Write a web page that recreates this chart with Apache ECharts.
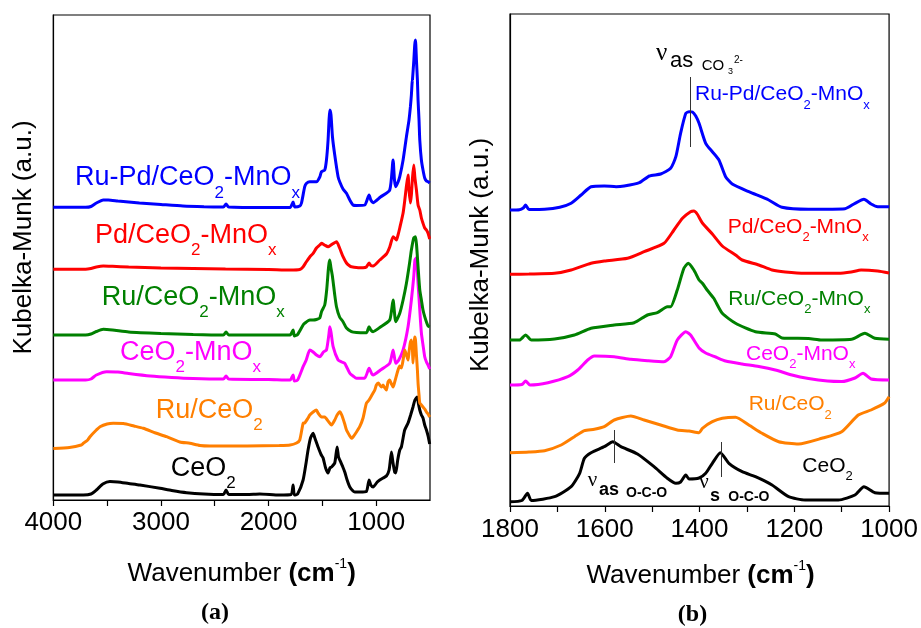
<!DOCTYPE html>
<html><head><meta charset="utf-8">
<script src="https://cdn.jsdelivr.net/npm/echarts@6/dist/echarts.min.js"></script>
<style>html,body{margin:0;padding:0;background:#fff}#c{width:921px;height:628px}</style>
</head><body><div id="c"></div>
<script>
// ---------- Panel (a): wavenumber (cm-1) vs Kubelka-Munk (offset, a.u.) ----------
const aCeO2 = [[4000,5],[3721,5],[3650,6],[3600,10],[3540,16],[3474,18.5],[3400,18],[3300,16.5],[3195,15],[3009,11.7],[2900,9.5],[2761,7.3],[2600,6],[2420,5.5],[2395,10],[2370,5.5],[2200,5.5],[2081,6],[1900,5],[1790,5.5],[1772,15],[1760,5],[1730,6],[1679,20],[1650,38],[1633,50],[1610,62],[1586,66.7],[1570,62],[1540,53],[1510,45],[1493,42],[1470,32],[1447,27],[1430,32],[1415,33],[1385,37],[1363,53],[1350,43],[1338,40],[1310,33],[1292,28],[1270,20],[1245,13],[1215,9],[1199,8],[1150,8],[1091,8.5],[1066,20],[1050,15],[1029,13],[990,18],[967,20],[936,22],[905,24],[880,30],[858,48],[845,38],[828,28],[818,27],[800,40],[781,50],[766,53],[750,62],[735,70],[704,77],[680,85],[658,93],[640,100],[620,103],[605,95],[595,90],[580,85],[565,82],[549,75],[533,70],[518,64],[503,56]];
const aRuCeO2 = [[4000,51.5],[3850,52.5],[3740,55],[3721,56.7],[3680,60],[3659,63.3],[3600,70],[3566,73.3],[3500,76],[3443,76.7],[3350,76.5],[3250,74],[3164,71.7],[3050,67],[2947,63.3],[2824,58],[2731,56.7],[2638,54.5],[2545,54],[2200,54],[1900,54.5],[1800,55],[1740,57],[1710,60],[1679,76.7],[1664,77],[1633,82],[1617,85],[1586,88],[1555,90],[1540,87],[1508,83],[1478,83],[1447,79],[1415,75],[1385,80],[1363,85],[1338,88.3],[1320,85],[1292,76],[1276,70],[1245,64],[1230,61.7],[1215,63],[1183,68],[1153,73.3],[1122,82],[1091,96.7],[1066,100],[1029,107],[1013,110],[998,115],[980,117],[967,115],[950,113],[936,115],[920,112],[905,110],[890,118],[874,120],[858,116],[843,113],[828,118],[797,130],[781,134],[766,132],[750,140],[734,150],[719,145],[704,140],[695,148],[682,158],[673,160],[663,150],[658,137],[651,148],[642,163],[635,160],[626,145],[617,130],[611,117],[602,105],[595,97],[580,95],[565,93],[549,91],[533,88],[518,86],[503,83]];
const aCeMnOx = [[4000,120],[3700,120],[3650,121],[3600,125],[3504,128.3],[3400,128],[3300,126.5],[3100,124],[2900,122.5],[2700,121.5],[2420,121],[2395,124],[2370,121],[2000,120.5],[1800,120],[1772,125],[1760,119],[1730,120],[1679,133.3],[1650,140],[1617,150],[1586,148],[1555,145],[1524,143.3],[1490,148],[1462,150],[1440,165],[1431,173.3],[1420,168],[1400,153.3],[1354,140],[1320,138],[1292,136.7],[1245,126.7],[1215,124],[1183,121.7],[1106,122],[1066,131.7],[1040,126],[1029,125],[960,130],[874,136.7],[843,150],[818,136.7],[790,140],[750,150],[704,173.3],[673,200],[651,223.3],[640,240],[628,242],[611,216.7],[595,190],[580,167],[565,155],[549,143.3],[533,138],[518,135],[503,131]];
const aRuCeMnOx = [[4000,165],[3700,165],[3650,166],[3600,168.5],[3536,170.7],[3450,170],[3300,168],[3000,166.5],[2700,165.5],[2420,165],[2395,168],[2370,165],[1800,165],[1772,170],[1760,164],[1730,165.5],[1679,175],[1664,176.7],[1617,180],[1586,180],[1555,180.5],[1524,182],[1508,188.3],[1478,195],[1460,210],[1445,230],[1438,236.7],[1431,240],[1420,232],[1406,223.3],[1385,205],[1369,193.3],[1340,183],[1308,178.3],[1276,172],[1230,168.3],[1183,167.5],[1091,167.3],[1066,173.3],[1050,170],[1029,168.3],[960,173],[874,180],[843,200],[818,178.3],[781,186.7],[750,200],[719,216.7],[690,236.7],[673,250],[651,262],[635,263.3],[625,255],[611,233.3],[595,210],[580,200],[565,190],[549,183.3],[533,178],[518,174],[503,173]];
const aPdCeMnOx = [[4000,230.7],[3700,230.7],[3650,231.5],[3600,233],[3536,234],[3450,233.7],[3300,233],[3000,232],[2700,231.5],[2400,231],[2000,230.5],[1800,230],[1710,230.5],[1680,233],[1650,238],[1617,243],[1586,246.7],[1555,252],[1524,255],[1508,256.7],[1480,255],[1447,253.3],[1420,255],[1369,258.3],[1340,252],[1308,243.3],[1276,237],[1245,234],[1230,233.3],[1153,232.3],[1122,232.3],[1091,233],[1066,237],[1050,234.5],[1029,234],[967,240],[905,246],[874,253],[843,263.3],[828,262],[812,260],[797,265],[781,272],[750,287],[734,300],[719,314],[704,325],[695,310],[682,297],[673,305],[663,322],[651,335],[640,322],[626,310],[611,295],[595,290],[580,282],[565,276.7],[549,272],[533,270],[518,266.7],[503,261]];
const aRuPdCeMnOx = [[4000,292.7],[3700,292.7],[3650,293.5],[3600,297],[3536,300],[3489,300],[3400,299],[3200,297],[3000,295.5],[2796,294],[2600,293.3],[2420,293],[2395,296],[2370,293],[2000,292.5],[1800,292.5],[1772,298],[1756,293],[1710,294],[1694,297],[1664,313.3],[1647,316.7],[1617,318.3],[1586,318.3],[1555,318.3],[1524,323],[1508,328.3],[1478,330],[1462,340],[1447,360],[1438,380],[1431,390],[1420,385],[1406,363],[1385,345],[1354,323.3],[1338,318],[1308,311],[1276,306.7],[1245,300],[1215,295],[1183,294.5],[1106,295],[1066,305],[1050,300],[1029,297.3],[960,303],[874,310],[843,340],[830,320],[818,313.3],[797,318],[781,323.3],[750,340],[719,363.3],[695,380],[682,393.3],[673,405],[663,420],[657,420],[650,440],[642,455],[635,460],[626,440],[617,420],[611,400],[602,380],[595,360],[580,340],[565,330],[549,322],[533,319],[518,318.3],[503,317]];

// ---------- Panel (b): 1800-1000 cm-1 ----------
const bCeO2 = [[1800,4.3],[1775,5.5],[1763,12.7],[1755,5.5],[1706,9.3],[1671,19.3],[1653,32.7],[1643,47.7],[1629,53.3],[1601,59.3],[1583,64.3],[1566,59.3],[1531,52],[1496,39.3],[1468,27.7],[1450,22.7],[1440,24],[1429,31],[1422,27],[1401,28],[1387,32.7],[1373,42.7],[1356,53.3],[1338,42.7],[1310,34.3],[1282,29.3],[1247,21],[1212,9.3],[1177,6],[1107,6],[1072,11],[1053,19.3],[1030,13.3],[1000,12.7]];
const bRuCeO2 = [[1800,53.3],[1760,54],[1727,55.3],[1692,61],[1664,69.3],[1643,75.3],[1622,76.7],[1601,79.3],[1580,86],[1545,90],[1517,86],[1482,81],[1447,76],[1422,75],[1401,73.3],[1394,77.7],[1373,84.3],[1352,87.7],[1324,88.7],[1296,81],[1268,72.7],[1233,64.3],[1191,62],[1142,67.7],[1100,74.3],[1065,91],[1038,96],[1010,102.7],[1000,109.3]];
const bCeMnOx = [[1800,121],[1775,121.5],[1767,125],[1758,121],[1720,123.3],[1678,129.3],[1657,136],[1636,146],[1622,150],[1580,149.3],[1545,146.7],[1510,145.3],[1475,144.3],[1461,149.3],[1447,166],[1429,174.3],[1419,171],[1401,158],[1387,153],[1366,149],[1345,145],[1310,142],[1275,139.5],[1240,136],[1205,131],[1170,127.5],[1130,125],[1100,124.5],[1072,128],[1055,132.7],[1038,127],[1000,126]];
const bRuCeMnOx = [[1800,166],[1780,166],[1767,171],[1755,166],[1706,167],[1664,171],[1629,177.7],[1580,181],[1538,183.3],[1510,191],[1489,193.3],[1468,199.3],[1461,199.3],[1447,216],[1433,237.7],[1424,242.7],[1412,236],[1401,226],[1394,222.7],[1384,216],[1370,207.7],[1352,192.7],[1324,182.7],[1282,174.3],[1240,172],[1226,168],[1170,167.5],[1142,166],[1079,166.7],[1051,172.7],[1030,167.7],[1000,166.7]];
const bPdCeMnOx = [[1800,231.7],[1760,232],[1706,232.7],[1671,236],[1629,242.7],[1601,245],[1552,247.7],[1517,254.3],[1475,262.7],[1454,276],[1436,287.7],[1419,294.3],[1412,295],[1405,292],[1394,283],[1373,272],[1352,260],[1324,251],[1310,246],[1275,241],[1247,236],[1219,234],[1177,232.7],[1107,232.7],[1080,234],[1059,236],[1024,235],[1000,233]];
const bRuPdCeMnOx = [[1800,296],[1780,296.3],[1772,298],[1767,301],[1760,296.5],[1727,296.7],[1695,298.7],[1671,302.7],[1650,311],[1629,319.3],[1601,320],[1576,319.3],[1559,320],[1527,323.3],[1506,330],[1482,332],[1461,337.7],[1450,349.3],[1440,372.7],[1429,392.7],[1422,394.3],[1415,394],[1408,390],[1401,382.7],[1387,362.7],[1373,354.3],[1359,346],[1345,329.3],[1331,322],[1296,314.3],[1254,306],[1226,298.7],[1170,296.7],[1093,297.3],[1072,302.7],[1053,306.7],[1038,302],[1024,299.3],[1000,299.3]];

// annotation marker lines in panel (b): [wavenumber, yFrom, yTo]
const bMarkers = [[1420,429,359],[1581,76,43],[1355,64,29]];

// axis tick values
const aTicksMajor = 1000, aTickStep = 500;
const bTicksMajor = 200, bTickStep = 100;

const COL = {CeO2:'#000000', RuCeO2:'#FF7F00', CeMn:'#FF00FF', RuCeMn:'#008000', PdCeMn:'#FF0000', RuPdCeMn:'#0000FF'};
const SANS = 'Liberation Sans, Arial, sans-serif';
const SERIF = 'Liberation Serif, Times New Roman, serif';

function mk(name, data, color, idx, extra) {
  return Object.assign({
    type:'line', name, data, xAxisIndex:idx, yAxisIndex:idx,
    showSymbol:false, symbol:'none', smooth:0.2, silent:true, animation:false,
    lineStyle:{color, width:3}, itemStyle:{color}
  }, extra || {});
}

function lbl(x, y, parts, color, size, subSize, shift) {
  const text = parts.map(p => '{' + p[1] + '|' + p[0] + '}').join('');
  return {
    type:'text', x, y, silent:true, z:100,
    style:{
      text, fill:color, align:'left', verticalAlign:'middle', textAlign:'left', textVerticalAlign:'middle',
      rich:{
        m:{fontSize:size, fontFamily:SANS, fill:color},
        s:{fontSize:subSize, fontFamily:SANS, fill:color, padding:[2*shift,0,0,0]}
      }
    }
  };
}
function txt(x, y, text, size, opts) {
  return {
    type:'text', x, y, silent:true, z:100, rotation:(opts && opts.rot) || 0,
    style:{
      text, fill:'#000', fontSize:size, fontFamily:(opts && opts.family) || SANS,
      fontWeight:(opts && opts.weight) || 'normal',
      align:(opts && opts.align) || 'left', verticalAlign:'middle',
      textAlign:(opts && opts.align) || 'left', textVerticalAlign:'middle'
    }
  };
}
function xTitle(x, y) {
  return {
    type:'text', x, y, silent:true, z:100,
    style:{
      text:'{r|Wavenumber }{b|(cm}{p|-1}{b|)}', fill:'#000', align:'center', verticalAlign:'middle',
      textAlign:'center', textVerticalAlign:'middle',
      rich:{
        r:{fontSize:26, fontFamily:SANS, fill:'#000'},
        b:{fontSize:26, fontFamily:SANS, fontWeight:'bold', fill:'#000'},
        p:{fontSize:14, fontFamily:SANS, fill:'#000', padding:[0,0,20,0]}
      }
    }
  };
}

const axisCommon = {
  type:'value', inverse:true, splitLine:{show:false},
  axisLine:{show:true, onZero:false, lineStyle:{color:'#000', width:1.2}},
  axisTick:{show:true, inside:false, length:6, lineStyle:{color:'#000', width:1.2}}
};

const option = {
  backgroundColor:'#fff',
  animation:false,
  grid:[
    {left:53.3, top:15, width:376.7, height:485, show:true, borderColor:'#000', borderWidth:1.2, backgroundColor:'transparent'},
    {left:510, top:14, width:381, height:492, show:true, borderColor:'#000', borderWidth:1.2, backgroundColor:'transparent'}
  ],
  xAxis:[
    Object.assign({}, axisCommon, {gridIndex:0, min:500, max:4000, interval:aTickStep,
      axisLabel:{fontSize:26, fontFamily:SANS, color:'#000', margin:10, showMinLabel:false, showMaxLabel:true,
        formatter:v => (v % aTicksMajor === 0 ? String(v) : '')}}),
    Object.assign({}, axisCommon, {gridIndex:1, min:1000, max:1800, interval:bTickStep,
      axisLabel:{fontSize:26, fontFamily:SANS, color:'#000', margin:11, showMinLabel:true, showMaxLabel:true,
        formatter:v => (v % bTicksMajor === 0 ? String(v) : '')}})
  ],
  yAxis:[
    {gridIndex:0, type:'value', min:0, max:485, axisLine:{show:true, lineStyle:{color:'#000', width:1.2}}, axisTick:{show:false}, axisLabel:{show:false}, splitLine:{show:false}},
    {gridIndex:1, type:'value', min:0, max:492, axisLine:{show:true, lineStyle:{color:'#000', width:1.2}}, axisTick:{show:false}, axisLabel:{show:false}, splitLine:{show:false}}
  ],
  series:[
    mk('CeO2', aCeO2, COL.CeO2, 0),
    mk('CeO2-MnOx', aCeMnOx, COL.CeMn, 0),
    mk('Ru/CeO2', aRuCeO2, COL.RuCeO2, 0),
    mk('Ru/CeO2-MnOx', aRuCeMnOx, COL.RuCeMn, 0),
    mk('Pd/CeO2-MnOx', aPdCeMnOx, COL.PdCeMn, 0),
    mk('Ru-Pd/CeO2-MnOx', aRuPdCeMnOx, COL.RuPdCeMn, 0),
    mk('CeO2 b', bCeO2, COL.CeO2, 1),
    mk('Ru/CeO2 b', bRuCeO2, COL.RuCeO2, 1),
    mk('CeO2-MnOx b', bCeMnOx, COL.CeMn, 1),
    mk('Ru/CeO2-MnOx b', bRuCeMnOx, COL.RuCeMn, 1),
    mk('Pd/CeO2-MnOx b', bPdCeMnOx, COL.PdCeMn, 1),
    mk('Ru-Pd/CeO2-MnOx b', bRuPdCeMnOx, COL.RuPdCeMn, 1, {
      markLine:{
        silent:true, symbol:['none','none'], animation:false, label:{show:false},
        lineStyle:{color:'#333', width:1, type:'solid'},
        data:bMarkers.map(m => [{coord:[m[0], m[1]]}, {coord:[m[0], m[2]]}])
      }
    })
  ],
  graphic:[
    // panel (a) series labels
    lbl(75, 178, [['Ru-Pd/CeO','m'],['2','s'],['-MnO','m'],['x','s']], COL.RuPdCeMn, 27, 17, 15),
    lbl(95, 235.5, [['Pd/CeO','m'],['2','s'],['-MnO','m'],['x','s']], COL.PdCeMn, 27, 17, 15),
    lbl(101.7, 297.8, [['Ru/CeO','m'],['2','s'],['-MnO','m'],['x','s']], COL.RuCeMn, 27, 17, 15),
    lbl(120, 352.3, [['CeO','m'],['2','s'],['-MnO','m'],['x','s']], COL.CeMn, 27, 17, 15),
    lbl(155.7, 410.5, [['Ru/CeO','m'],['2','s']], COL.RuCeO2, 27, 17, 15),
    lbl(170.7, 468.7, [['CeO','m'],['2','s']], COL.CeO2, 27, 17, 15),
    // panel (b) series labels
    lbl(695, 94.5, [['Ru-Pd/CeO','m'],['2','s'],['-MnO','m'],['x','s']], COL.RuPdCeMn, 21, 13, 10.5),
    lbl(727.7, 227, [['Pd/CeO','m'],['2','s'],['-MnO','m'],['x','s']], COL.PdCeMn, 21, 13, 10.5),
    lbl(728.3, 299, [['Ru/CeO','m'],['2','s'],['-MnO','m'],['x','s']], COL.RuCeMn, 21, 13, 10.5),
    lbl(746, 354, [['CeO','m'],['2','s'],['-MnO','m'],['x','s']], COL.CeMn, 21, 13, 10.5),
    lbl(748.7, 404.5, [['Ru/CeO','m'],['2','s']], COL.RuCeO2, 21, 13, 10.5),
    lbl(802.3, 466, [['CeO','m'],['2','s']], COL.CeO2, 21, 13, 10.5),
    // annotation: nu_as CO3 2-
    txt(656, 53, 'ν', 25, {family:SERIF}),
    txt(670, 60.7, 'as', 22),
    txt(701.7, 65.5, 'CO', 15),
    txt(728, 71.4, '3', 9),
    txt(734, 60.3, '2-', 10),
    // annotation: nu_as O-C-O
    txt(587.7, 480, 'ν', 21, {family:SERIF}),
    txt(599, 490.5, 'as', 18, {weight:'bold'}),
    txt(626, 493.4, 'O-C-O', 14, {weight:'bold'}),
    // annotation: nu_s O-C-O
    txt(699.3, 482, 'ν', 21, {family:SERIF}),
    txt(710, 496.5, 's', 18, {weight:'bold'}),
    txt(728.3, 497.5, 'O-C-O', 14, {weight:'bold'}),
    // axis titles
    xTitle(241.7, 574),
    xTitle(700.5, 576),
    txt(24, 237.5, 'Kubelka-Munk (a.u.)', 26, {align:'center', rot:Math.PI/2}),
    txt(480.5, 255, 'Kubelka-Munk (a.u.)', 26, {align:'center', rot:Math.PI/2}),
    // panel tags
    txt(215, 613, '(a)', 24, {family:SERIF, weight:'bold', align:'center'}),
    txt(692.5, 615, '(b)', 24, {family:SERIF, weight:'bold', align:'center'})
  ]
};

const chart = echarts.init(document.getElementById('c'), null, {renderer:'canvas'});
chart.setOption(option);
</script></body></html>
